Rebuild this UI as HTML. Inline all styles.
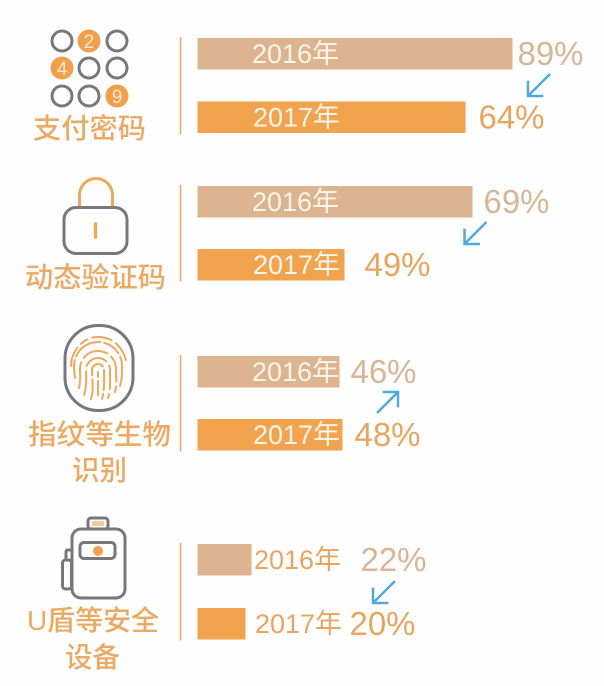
<!DOCTYPE html>
<html lang="zh">
<head>
<meta charset="utf-8">
<title>验证方式使用比例 2016-2017</title>
<style>
html,body{margin:0;padding:0;background:#fefefe;}
body{width:604px;height:686px;overflow:hidden;}
svg{display:block;font-family:"Liberation Sans","Noto Sans CJK SC",sans-serif;}
.ico{fill:none;stroke:#77777c;stroke-width:3;}
.fp{fill:none;stroke:#eda85c;stroke-width:2;stroke-linecap:round;}
</style>
</head>
<body>
<svg id="chart" width="604" height="686" viewBox="0 0 604 686" xmlns="http://www.w3.org/2000/svg">
  <g>
    <circle class="ico" cx="62" cy="41" r="10"/>
    <circle cx="89" cy="41" r="11.500" fill="#f0a04a"/>
    <circle class="ico" cx="117" cy="41" r="10"/>
    <circle cx="62" cy="68" r="11.500" fill="#f0a04a"/>
    <circle class="ico" cx="89" cy="68" r="10"/>
    <circle class="ico" cx="117" cy="68" r="10"/>
    <circle class="ico" cx="62" cy="96" r="10"/>
    <circle class="ico" cx="89" cy="96" r="10"/>
    <circle cx="117" cy="96" r="11.500" fill="#f0a04a"/>
    <text x="89" y="48" text-anchor="middle" font-size="19" fill="#fbe9d3">2</text>
    <text x="62" y="75" text-anchor="middle" font-size="19" fill="#fbe9d3">4</text>
    <text x="117" y="103" text-anchor="middle" font-size="19" fill="#fbe9d3">9</text>
  </g>
  <g>
    <path d="M79.500 207V195A16.500 16.500 0 0 1 112.500 195V207" fill="none" stroke="#eda85c" stroke-width="3"/>
    <rect class="ico" x="64" y="207.500" width="63" height="46" rx="12"/>
    <line x1="95.500" y1="224" x2="95.500" y2="237" stroke="#eda85c" stroke-width="3.500" stroke-linecap="round"/>
  </g>
  <g>
    <rect class="ico" x="65" y="325.500" width="68" height="85" rx="33"/>
    <path class="fp" d="M98 395V372" stroke-dasharray="14 4"/>
    <path class="fp" d="M91 399C94 390 92 380 92 370A6 6 0 0 1 104 370C104 380 105 388 102 399" stroke-dasharray="20 4"/>
    <path class="fp" d="M84 395C87 385 86 378 86 370A12 12 0 0 1 110 370C110 380 111 388 108 398" stroke-dasharray="24 5"/>
    <path class="fp" d="M79 388C81 380 80 375 80 369A18 18 0 0 1 116 369C116 378 117 385 115 392" stroke-dasharray="26 5"/>
    <path class="fp" d="M75 378C74 372 74 368 74 366A24 24 0 0 1 122 366C122 374 122 380 120 386" stroke-dasharray="18 4 30 4"/>
    <path class="fp" d="M71 366C71 352 82 337 98 337C112 337 122 346 126 360" stroke-dasharray="20 5 8 5 20 5"/>
  </g>
  <g>
    <rect class="ico" x="88" y="518" width="20" height="11" rx="3"/>
    <rect x="92" y="521" width="12" height="5" fill="#f3c899"/>
    <rect class="ico" x="72" y="529" width="53" height="69" rx="9"/>
    <rect class="ico" x="80" y="542.500" width="35" height="16" rx="4"/>
    <circle cx="98" cy="551" r="5" fill="#f0a04a"/>
    <path class="ico" d="M71 550H68Q66 550 66 552V560" />
    <rect class="ico" x="62.500" y="560" width="9" height="29" rx="3"/>
  </g>
  <g id="marks"></g>
</svg>
<script>
var categories = ["支付密码", "动态验证码", "指纹等生物\n识别", "U盾等安全\n设备"];
var seriesNames = ["2016年", "2017年"];
var values2016 = [89, 69, 46, 22];
var values2017 = [64, 49, 48, 20];

// The source graphic's bars are not drawn to a linear scale, so the axis is piecewise.
function xScale(v) {
  var dom = [0, 20, 22, 46, 48, 49, 64, 69, 89, 100];
  var rng = [197.500, 245.500, 251.500, 339.500, 342.500, 344.500, 465.500, 472.500, 512.500, 540];
  for (var i = 1; i < dom.length; i++) {
    if (v <= dom[i]) {
      return rng[i - 1] + (v - dom[i - 1]) * (rng[i] - rng[i - 1]) / (dom[i] - dom[i - 1]);
    }
  }
  return rng[rng.length - 1];
}

var NS = "http://www.w3.org/2000/svg";
var root = document.getElementById("marks");
function make(tag, attrs, text) {
  var el = document.createElementNS(NS, tag);
  for (var k in attrs) el.setAttribute(k, attrs[k]);
  if (text !== undefined) el.textContent = text;
  root.appendChild(el);
  return el;
}

function draw() {
  var layout = {
    top2016: [38, 186, 356, 544],
    top2017: [101.500, 249, 419, 608],
    yearX: [[252, 253], [252, 253], [252, 253], [254, 255]],
    gap2016: [5, 11, 11, 109],
    gap2017: [13, 20, 12, 104],
    labelY: [[128, 0], [277, 0], [434, 470], [620, 657]],
    labelCX: [[89.500], [95.500], [99.500, 99.500], [93, 92.500]],
    labelW: [[113], [141], [143, 55], [132, 55]],
    arrowEnd: [[550, 74], [486.500, 222], [377, 413], [395, 581]]
  };
  var barH = 31.500;
  var x0 = xScale(0);
  categories.forEach(function (name, i) {
    var lines = name.split("\n");
    lines.forEach(function (line, j) {
      var t = make("text", {
        x: layout.labelCX[i][j],
        y: layout.labelY[i][j] + 10,
        "text-anchor": "middle",
        "font-size": 28,
        "font-weight": 500,
        fill: "#eba963",
        textLength: layout.labelW[i][j],
        lengthAdjust: "spacingAndGlyphs"
      }, line);
      
      
    });

    var sep = make("line", {
      x1: 180.500, x2: 180.500,
      y1: layout.top2016[i] - 1, y2: layout.top2017[i] + barH + 1,
      stroke: "#eda85c", "stroke-width": 1.500
    });
    
    

    var small = i === 3;
    [[values2016[i], layout.top2016[i], "#dcb48f", "#d8b595", layout.gap2016[i]],
     [values2017[i], layout.top2017[i], "#f2a34e", "#e8a55e", layout.gap2017[i]]].forEach(function (r, s) {
      var end = xScale(r[0]);
      var bar = make("rect", { x: x0, y: r[1], width: end - x0, height: barH, fill: r[2] });
      
      

      var yr = make("text", {
        x: layout.yearX[i][s], y: r[1] + 25, "font-size": 27,
        fill: small ? "#e8a560" : "#fdf5ea",
        textLength: 87, lengthAdjust: "spacingAndGlyphs"
      }, seriesNames[s]);
      
      

      var pct = make("text", {
        x: end + r[4], y: r[1] + 27, "font-size": 33,
        fill: r[3], textLength: 66, lengthAdjust: "spacingAndGlyphs"
      }, r[0] + "%");
      
      
    });

    var up = values2017[i] > values2016[i];
    var a = layout.arrowEnd[i];
    var dx = up ? 21 : -22, dy = up ? -21 : 22;
    var tip = [a[0] + dx, a[1] + dy];
    var sx = up ? -14 : 14, sy = up ? 14 : -14;
    var arrow = make("path", {
      d: "M" + a[0] + " " + a[1] + "L" + tip[0] + " " + tip[1] +
         "M" + (tip[0] + sx * 1.100) + " " + tip[1] + "H" + tip[0] + "V" + (tip[1] + sy * 1.100),
      fill: "none", stroke: "#4fa9dc", "stroke-width": 2.500
    });
    
    
  });
}
draw();
</script>
</body>
</html>
